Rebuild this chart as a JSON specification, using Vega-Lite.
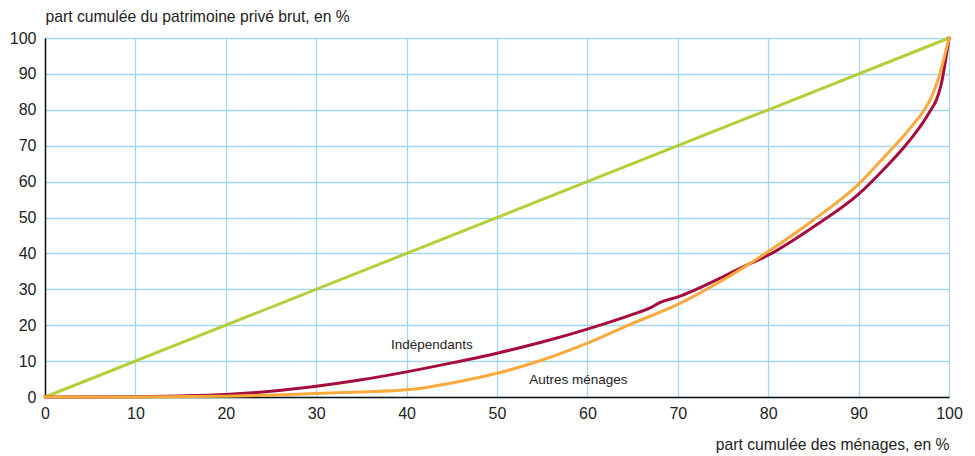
{
  "$schema": "https://vega.github.io/schema/vega-lite/v6.json",
  "autosize": {"type": "none"},
  "width": 904,
  "height": 359,
  "padding": {"left": 45, "top": 38, "right": 26, "bottom": 59},
  "background": "white",
  "config": {
    "font": "Liberation Sans",
    "view": {"stroke": null},
    "axis": {
      "labelFont": "Liberation Sans",
      "titleFont": "Liberation Sans",
      "labelFontSize": 16,
      "titleFontSize": 15.7,
      "labelColor": "#222222",
      "titleColor": "#222222",
      "titleFontWeight": "normal",
      "gridColor": "#a9d5f2",
      "gridWidth": 1.3,
      "gridOpacity": 1,
      "domainColor": "#111111",
      "domainWidth": 1.5,
      "ticks": false,
      "labelOverlap": false
    }
  },
  "datasets": {
    "curves": [
      {"serie": "Égalité", "x": 0, "y": 0},
      {"serie": "Égalité", "x": 100, "y": 100},
      {"serie": "Indépendants", "x": 0, "y": 0},
      {"serie": "Indépendants", "x": 10, "y": 0.1},
      {"serie": "Indépendants", "x": 15, "y": 0.3},
      {"serie": "Indépendants", "x": 20, "y": 0.7},
      {"serie": "Indépendants", "x": 25, "y": 1.6},
      {"serie": "Indépendants", "x": 30, "y": 3.0},
      {"serie": "Indépendants", "x": 35, "y": 4.8},
      {"serie": "Indépendants", "x": 40, "y": 7.0},
      {"serie": "Indépendants", "x": 45, "y": 9.5},
      {"serie": "Indépendants", "x": 50, "y": 12.2},
      {"serie": "Indépendants", "x": 55, "y": 15.3},
      {"serie": "Indépendants", "x": 60, "y": 18.9},
      {"serie": "Indépendants", "x": 65, "y": 23.0},
      {"serie": "Indépendants", "x": 67, "y": 24.9},
      {"serie": "Indépendants", "x": 68, "y": 26.3},
      {"serie": "Indépendants", "x": 70, "y": 27.9},
      {"serie": "Indépendants", "x": 75, "y": 33.5},
      {"serie": "Indépendants", "x": 77, "y": 36.0},
      {"serie": "Indépendants", "x": 80, "y": 39.5},
      {"serie": "Indépendants", "x": 85, "y": 47.4},
      {"serie": "Indépendants", "x": 90, "y": 56.5},
      {"serie": "Indépendants", "x": 93, "y": 64.0},
      {"serie": "Indépendants", "x": 95, "y": 69.5},
      {"serie": "Indépendants", "x": 96, "y": 72.6},
      {"serie": "Indépendants", "x": 97, "y": 76.0},
      {"serie": "Indépendants", "x": 98, "y": 80.0},
      {"serie": "Indépendants", "x": 98.6, "y": 82.7},
      {"serie": "Indépendants", "x": 99.1, "y": 86.7},
      {"serie": "Indépendants", "x": 100, "y": 100},
      {"serie": "Autres ménages", "x": 0, "y": 0},
      {"serie": "Autres ménages", "x": 10, "y": 0},
      {"serie": "Autres ménages", "x": 20, "y": 0.2},
      {"serie": "Autres ménages", "x": 25, "y": 0.5},
      {"serie": "Autres ménages", "x": 30, "y": 1.0},
      {"serie": "Autres ménages", "x": 35, "y": 1.4},
      {"serie": "Autres ménages", "x": 40, "y": 2.0},
      {"serie": "Autres ménages", "x": 42, "y": 2.6},
      {"serie": "Autres ménages", "x": 45, "y": 3.9},
      {"serie": "Autres ménages", "x": 50, "y": 6.6},
      {"serie": "Autres ménages", "x": 55, "y": 10.3},
      {"serie": "Autres ménages", "x": 60, "y": 15.0},
      {"serie": "Autres ménages", "x": 65, "y": 20.5},
      {"serie": "Autres ménages", "x": 70, "y": 25.8},
      {"serie": "Autres ménages", "x": 75, "y": 32.6},
      {"serie": "Autres ménages", "x": 80, "y": 40.5},
      {"serie": "Autres ménages", "x": 85, "y": 49.3},
      {"serie": "Autres ménages", "x": 90, "y": 59.3},
      {"serie": "Autres ménages", "x": 93, "y": 67.3},
      {"serie": "Autres ménages", "x": 95, "y": 72.8},
      {"serie": "Autres ménages", "x": 96, "y": 75.8},
      {"serie": "Autres ménages", "x": 97, "y": 79.0},
      {"serie": "Autres ménages", "x": 98, "y": 83.2},
      {"serie": "Autres ménages", "x": 98.8, "y": 88.5},
      {"serie": "Autres ménages", "x": 100, "y": 100}
    ],
    "labels": [
      {"label": "Indépendants", "x": 42.8, "y": 14.5},
      {"label": "Autres ménages", "x": 59.0, "y": 4.7}
    ]
  },
  "layer": [
    {
      "data": {"name": "curves"},
      "mark": {"type": "line", "strokeWidth": 3, "strokeCap": "round", "interpolate": "monotone"},
      "encoding": {
        "x": {
          "field": "x", "type": "quantitative",
          "scale": {"domain": [0, 100], "nice": false},
          "axis": {
            "values": [0, 10, 20, 30, 40, 50, 60, 70, 80, 90, 100],
            "tickCount": 11,
            "title": "part cumulée des ménages, en %",
            "titleAnchor": "end",
            "titleAlign": "right",
            "titleX": 904,
            "titleY": 52,
            "titleBaseline": "alphabetic",
            "labelPadding": 8,
            "labelFlush": false,
            "labelOverlap": false
          }
        },
        "y": {
          "field": "y", "type": "quantitative",
          "scale": {"domain": [0, 100], "nice": false},
          "axis": {
            "values": [0, 10, 20, 30, 40, 50, 60, 70, 80, 90, 100],
            "tickCount": 11,
            "title": "part cumulée du patrimoine privé brut, en %",
            "titleAngle": 0,
            "titleAlign": "left",
            "titleX": 0,
            "titleY": -17,
            "titleBaseline": "alphabetic",
            "labelPadding": 9,
            "labelFlush": false,
            "labelOverlap": false,
            "labelBound": false,
            "labelSeparation": 0
          }
        },
        "color": {
          "field": "serie", "type": "nominal",
          "scale": {"domain": ["Égalité", "Indépendants", "Autres ménages"], "range": ["#b3cf3a", "#a50d3c", "#f9aa3d"]},
          "legend": null
        },
        "order": {"field": "x", "type": "quantitative"}
      }
    },
    {
      "data": {"name": "labels"},
      "mark": {"type": "text", "font": "Liberation Sans", "fontSize": 13.5, "color": "#222222", "align": "center", "baseline": "middle"},
      "encoding": {
        "x": {"field": "x", "type": "quantitative"},
        "y": {"field": "y", "type": "quantitative"},
        "text": {"field": "label", "type": "nominal"}
      }
    }
  ]
}
